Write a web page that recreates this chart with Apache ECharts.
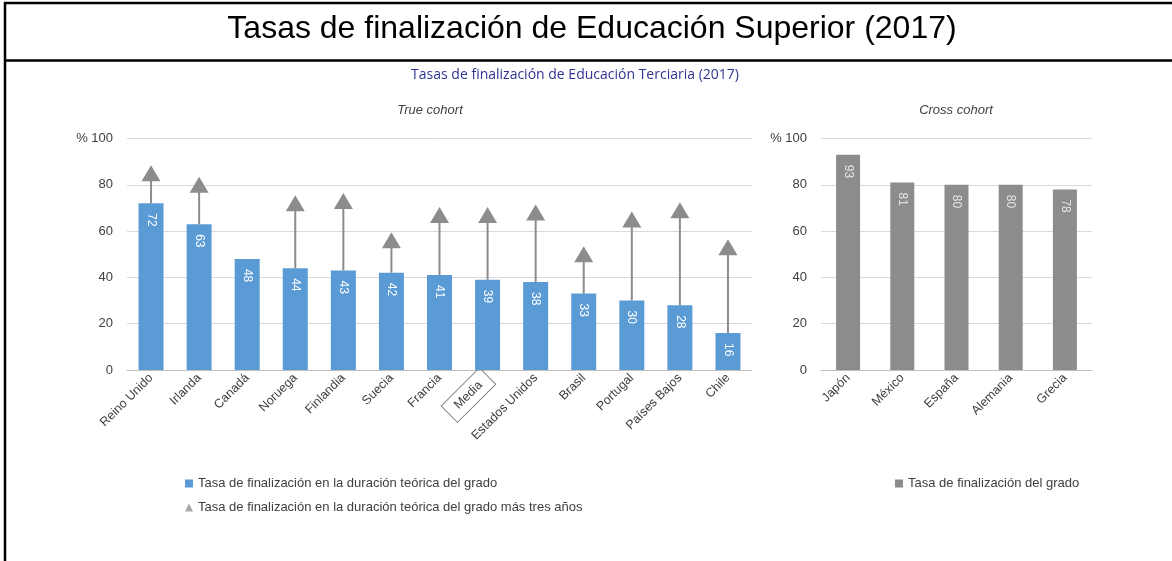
<!DOCTYPE html>
<html>
<head>
<meta charset="utf-8">
<script src="https://cdn.jsdelivr.net/npm/echarts@6/dist/echarts.min.js"></script>
<style>
  html, body { margin: 0; padding: 0; background: #fff; }
  #chart { width: 1172px; height: 561px; }
</style>
</head>
<body>
<div id="chart"></div>
<script>
// datos - True cohort
const paises = ['Reino Unido', 'Irlanda', 'Canadá', 'Noruega', 'Finlandia', 'Suecia', 'Francia', 'Media', 'Estados Unidos', 'Brasil', 'Portugal', 'Países Bajos', 'Chile']
const tasaTeorica = [72, 63, 48, 44, 43, 42, 41, 39, 38, 33, 30, 28, 16]
const tasaMasTres = [85, 80, null, 72, 73, 56, 67, 67, 68, 50, 65, 69, 53]

// datos - Cross cohort
const paisesCross = ['Japón', 'México', 'España', 'Alemania', 'Grecia']
const tasaGrado = [93, 81, 80, 80, 78]

const yTicks = [0, 20, 40, 60, 80, 100]

const nombreBarra = 'Tasa de finalización en la duración teórica del grado'
const nombreTri = 'Tasa de finalización en la duración teórica del grado más tres años'
const nombreCross = 'Tasa de finalización del grado'

const chart = echarts.init(document.getElementById('chart'))

const txtGris = '#404040'
const font = 'Liberation Sans, Arial, sans-serif'

// eje y comun
function yAxis(gridIndex) {
  return {
    gridIndex,
    type: 'value',
    min: yTicks[0],
    max: yTicks[yTicks.length - 1],
    interval: 20,
    axisLine: { show: false },
    axisTick: { show: false },
    axisLabel: {
      margin: 14,
      fontSize: 13,
      fontFamily: font,
      color: txtGris,
      formatter: v => (v === 100 ? '% 100' : String(v))
    },
    splitLine: { lineStyle: { color: '#d9d9d9', width: 1 } }
  }
}

function xAxis(gridIndex, data) {
  return {
    gridIndex,
    type: 'category',
    data,
    axisLine: { lineStyle: { color: '#bfbfbf', width: 1 } },
    axisTick: { length: 5, lineStyle: { color: '#bfbfbf' } },
    axisLabel: {
      interval: 0,
      rotate: 45,
      margin: 6,
      fontSize: 12.5,
      fontFamily: font,
      color: txtGris,
      // la media va enmarcada
      formatter: v => (v === 'Media' ? '{box|Media}' : v),
      rich: {
        box: {
          fontSize: 12.5,
          fontFamily: font,
          color: txtGris,
          borderColor: '#7f7f7f',
          borderWidth: 1,
          padding: [5, 10]
        }
      }
    }
  }
}

const barLabel = (color) => ({
  show: true,
  position: 'insideTop',
  distance: 10,
  rotate: -90,
  align: 'left',
  verticalAlign: 'middle',
  color,
  fontSize: 12,
  fontFamily: font
})

const option = {
  animation: false,
  backgroundColor: '#fff',
  grid: [
    { left: 127, right: 420, top: 138.5, bottom: 191 },
    { left: 821, right: 80, top: 138.5, bottom: 191 }
  ],
  xAxis: [xAxis(0, paises), xAxis(1, paisesCross)],
  yAxis: [yAxis(0), yAxis(1)],
  legend: [
    {
      orient: 'vertical',
      left: 180,
      top: 472,
      itemWidth: 8,
      itemHeight: 8,
      itemGap: 11,
      textStyle: { fontSize: 13, fontFamily: font, color: txtGris },
      data: [
        { name: nombreBarra, icon: 'rect' },
        { name: nombreTri, icon: 'triangle', itemStyle: { color: '#a6a6a6' } }
      ]
    },
    {
      left: 890,
      top: 472,
      itemWidth: 8,
      itemHeight: 8,
      textStyle: { fontSize: 13, fontFamily: font, color: txtGris },
      data: [{ name: nombreCross, icon: 'rect' }]
    }
  ],
  graphic: [
    // marco
    { type: 'line', shape: { x1: 4, y1: 3, x2: 1172, y2: 3 }, style: { stroke: '#000', lineWidth: 2.5 } },
    { type: 'line', shape: { x1: 5, y1: 2, x2: 5, y2: 561 }, style: { stroke: '#000', lineWidth: 2.5 } },
    { type: 'line', shape: { x1: 4, y1: 60.5, x2: 1172, y2: 60.5 }, style: { stroke: '#000', lineWidth: 2.5 } },
    // titulos
    {
      type: 'text', x: 592, y: 29,
      style: { text: 'Tasas de finalización de Educación Superior (2017)', align: 'center', verticalAlign: 'middle', fontSize: 32, fontFamily: font, fill: '#000' }
    },
    {
      type: 'text', x: 575, y: 75,
      style: { text: 'Tasas de finalización de Educación Terciaria (2017)', align: 'center', verticalAlign: 'middle', fontSize: 14, fontFamily: 'Open Sans, sans-serif', fill: '#2f3590' }
    },
    {
      type: 'text', x: 430, y: 110,
      style: { text: 'True cohort', align: 'center', verticalAlign: 'middle', fontSize: 13, fontStyle: 'italic', fontFamily: font, fill: txtGris }
    },
    {
      type: 'text', x: 956, y: 110,
      style: { text: 'Cross cohort', align: 'center', verticalAlign: 'middle', fontSize: 13, fontStyle: 'italic', fontFamily: font, fill: txtGris }
    }
  ],
  series: [
    {
      name: nombreBarra,
      type: 'bar',
      xAxisIndex: 0,
      yAxisIndex: 0,
      barWidth: 25,
      data: tasaTeorica,
      itemStyle: { color: '#5b9bd5' },
      label: barLabel('#fff'),
      z: 2
    },
    {
      // lineas verticales hasta el triangulo
      type: 'custom',
      xAxisIndex: 0,
      yAxisIndex: 0,
      silent: true,
      data: paises.map((p, i) => [i, tasaTeorica[i], tasaMasTres[i] == null ? tasaTeorica[i] : tasaMasTres[i]]),
      renderItem: (params, api) => {
        const a = api.coord([api.value(0), api.value(1)])
        const b = api.coord([api.value(0), api.value(2)])
        return {
          type: 'line',
          shape: { x1: a[0], y1: a[1], x2: b[0], y2: b[1] },
          style: { stroke: '#8c8c8c', lineWidth: 2 }
        }
      },
      z: 3
    },
    {
      name: nombreTri,
      type: 'scatter',
      xAxisIndex: 0,
      yAxisIndex: 0,
      symbol: 'triangle',
      symbolSize: [19, 16],
      data: tasaMasTres.map(v => (v == null ? '-' : v)),
      itemStyle: { color: '#8c8c8c', opacity: 1 },
      z: 4
    },
    {
      name: nombreCross,
      type: 'bar',
      xAxisIndex: 1,
      yAxisIndex: 1,
      barWidth: 24,
      data: tasaGrado,
      itemStyle: { color: '#8c8c8c' },
      label: barLabel('#e6e6e6')
    }
  ]
}

chart.setOption(option)
</script>
</body>
</html>
